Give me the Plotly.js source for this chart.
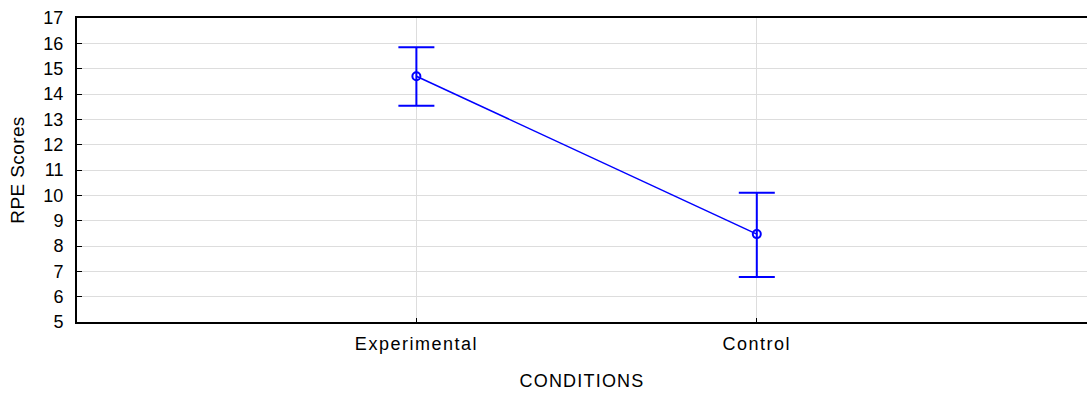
<!DOCTYPE html>
<html>
<head>
<meta charset="utf-8">
<script src="https://cdn.plot.ly/plotly-3.0.1.min.js"></script>
<style>
html,body{margin:0;padding:0;background:#fff}
#chart{width:1087px;height:393px}
.xtick text{letter-spacing:1.5px}
.xtitle{letter-spacing:1.2px}
.ytitle{letter-spacing:0.4px}
</style>
</head>
<body>
<div id="chart"></div>
<script>
const categories = ["Experimental", "Control"];
const meanValues = [14.7, 8.47];
const errPlus = [1.15, 1.63];
const errMinus = [1.16, 1.69];
const yTickValues = [5,6,7,8,9,10,11,12,13,14,15,16,17];

const xIndex = categories.map((c, i) => i);

const trace = {
  x: xIndex,
  y: meanValues,
  type: "scatter",
  mode: "lines+markers",
  line: {color: "#0000ff", width: 1.5},
  marker: {symbol: "circle-open", size: 8, color: "#0000ff", line: {width: 2, color: "#0000ff"}},
  error_y: {type: "data", symmetric: false, array: errPlus, arrayminus: errMinus, color: "#0000ff", thickness: 2, width: 18},
  hoverinfo: "skip"
};

const layout = {
  width: 1087, height: 393,
  margin: {l: 77, r: 0, t: 18, b: 71},
  paper_bgcolor: "#fff", plot_bgcolor: "#fff",
  showlegend: false,
  font: {family: "Liberation Sans, Arial, sans-serif", size: 18, color: "#000"},
  xaxis: {
    range: [-0.997, 1.97],
    tickmode: "array", tickvals: xIndex, ticktext: categories,
    showgrid: true, gridcolor: "#dddddd", gridwidth: 1,
    zeroline: false,
    showline: true, linecolor: "#000", linewidth: 2, mirror: true,
    ticks: "inside", ticklen: 4, tickcolor: "#000", tickwidth: 1,
    tickfont: {size: 18},
    ticklabelstandoff: 4,
    title: {text: "CONDITIONS", font: {size: 18}, standoff: 22}
  },
  yaxis: {
    range: [5, 17],
    tickmode: "array", tickvals: yTickValues,
    showgrid: true, gridcolor: "#dddddd", gridwidth: 1,
    zeroline: false,
    showline: true, linecolor: "#000", linewidth: 2,
    ticks: "inside", ticklen: 5, tickcolor: "#000", tickwidth: 1,
    tickfont: {size: 18},
    ticklabelstandoff: 8,
    title: {text: "RPE Scores", font: {size: 19}, standoff: 14}
  }
};

Plotly.newPlot("chart", [trace], layout, {displayModeBar: false, staticPlot: true});
</script>
</body>
</html>
